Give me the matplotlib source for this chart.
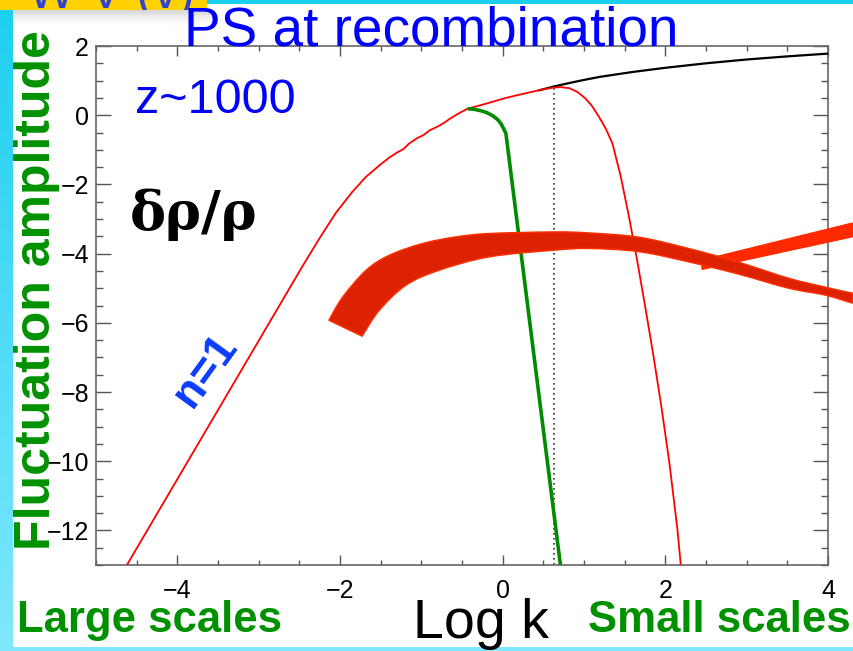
import matplotlib
matplotlib.use("Agg")
import matplotlib.pyplot as plt
import numpy as np
from matplotlib.path import Path
from matplotlib.patches import PathPatch
from matplotlib.ticker import MultipleLocator

W, H = 854, 651

# Density contrast at recombination (red), primordial n=1 spectrum (black),
# strongly damped case (green), all in log amplitude vs log k.
log_k_red = [-4.62, -4.30, -4.00, -3.70, -3.40, -3.10, -2.80, -2.46, -2.25, -2.05,
             -1.85, -1.68, -1.50, -1.39, -1.30, -1.22, -1.15, -1.05, -0.97, -0.90,
             -0.80, -0.72, -0.66, -0.55, -0.43, -0.30, -0.15, 0.04, 0.20, 0.35,
             0.50, 0.63, 0.72, 0.82, 0.92, 1.02, 1.10, 1.18, 1.27, 1.35,
             1.45, 1.55, 1.65, 1.75, 1.85, 1.95, 2.05, 2.15, 2.19]
amp_red = [-13.0, -11.72, -10.52, -9.32, -8.12, -6.92, -5.72, -4.36, -3.55, -2.82,
           -2.22, -1.78, -1.42, -1.22, -1.08, -0.98, -0.82, -0.66, -0.57, -0.44,
           -0.33, -0.22, -0.12, 0.04, 0.19, 0.27, 0.37, 0.50, 0.59, 0.67,
           0.75, 0.80, 0.81, 0.78, 0.67, 0.48, 0.26, -0.03, -0.40, -0.82,
           -1.75, -2.90, -4.15, -5.50, -6.90, -8.40, -10.05, -12.00, -13.0]

log_k_black = [0.45, 0.63, 0.80, 1.00, 1.20, 1.60, 2.00, 2.50, 3.00, 3.50, 4.00]
amp_black = [0.72, 0.83, 0.92, 1.02, 1.11, 1.25, 1.37, 1.50, 1.61, 1.70, 1.78]

log_k_green = [-0.43, -0.35, -0.27, -0.19, -0.12, -0.06, -0.02, 0.01, 0.04, 0.71]
amp_green = [0.19, 0.17, 0.13, 0.07, -0.02, -0.13, -0.25, -0.38, -0.53, -13.0]

k_peak = 0.63
amp_peak = 0.80

# Hand-drawn pointer: curved band and straight bar (data coordinates)
band_upper_x = [-2.137, -1.966, -1.679, -1.393, -0.984, -0.574, -0.166, 0.632, 1.061,
                1.675, 2.288, 2.902, 3.515, 3.969, 4.301]
band_upper_y = [-5.925, -5.251, -4.480, -4.046, -3.708, -3.517, -3.419, -3.373, -3.402,
                -3.526, -3.853, -4.249, -4.711, -4.971, -5.145]
band_lower_x = [-1.728, -1.515, -1.188, -0.779, -0.166, 0.632, 1.061, 1.675, 2.288,
                2.902, 3.515, 3.969, 4.301]
band_lower_y = [-6.387, -5.636, -4.913, -4.480, -4.095, -3.902, -3.853, -3.945, -4.240,
                -4.595, -5.000, -5.202, -5.434]
bar_x = [2.443, 4.301, 4.301, 2.451]
bar_y = [-4.191, -3.113, -3.517, -4.460]

x_ticks = [-4, -2, 0, 2, 4]
y_ticks = [2, 0, -2, -4, -6, -8, -10, -12]

BLUE = "#0000FF"
GREEN = "#009100"
SANS = "Liberation Sans"


def fx(px):
    return px / W


def fy(py):
    return 1 - py / H


def bezier_through(xs, ys, first_code=Path.MOVETO):
    """Cubic Bezier segments passing through every given vertex."""
    pts = np.column_stack([xs, ys])
    n = len(pts)
    verts = [pts[0]]
    codes = [first_code]
    for i in range(n - 1):
        p0 = pts[max(i - 1, 0)]
        p1, p2 = pts[i], pts[i + 1]
        p3 = pts[min(i + 2, n - 1)]
        verts += [p1 + (p2 - p0) / 6, p2 - (p3 - p1) / 6, p2]
        codes += [Path.CURVE4] * 3
    return verts, codes


fig = plt.figure(figsize=(W / 100, H / 100), dpi=100)
fig.patch.set_facecolor("white")

# Slide frame behind the plot
bg = fig.add_axes([0, 0, 1, 1], zorder=-5)
bg.set_xlim(0, W)
bg.set_ylim(H, 0)
bg.axis("off")
grad = np.linspace(0, 1, 256).reshape(-1, 1)
cmap = matplotlib.colors.LinearSegmentedColormap.from_list("strip", ["#1ccfee", "#80e8ff"])
bg.imshow(grad, cmap=cmap, extent=[0, 13, H, 0], aspect="auto")
bg.add_patch(plt.Rectangle((207, 0), W - 207, 4, color="#1ad0ee", lw=0))
bg.add_patch(plt.Rectangle((0, H - 4), W, 4, color="#80e6ff", lw=0))
for i, a in enumerate([0.22, 0.16, 0.11, 0.07, 0.04, 0.02]):
    bg.add_patch(plt.Rectangle((13, 10 + 2.5 * i), 196 + 2 * i, 2.5, color="#555555",
                               alpha=a, lw=0))
ybox = plt.Rectangle((0, 0), 207, 10, color="#ffd200", lw=0)
bg.add_patch(ybox)
tag = bg.text(28, 8, "W V (v)", fontsize=36, color="#3344cc", family=SANS,
              va="baseline", clip_on=True)
tag.set_clip_path(ybox)

ax = fig.add_axes([96 / W, 1 - 565 / H, (828 - 96) / W, (565 - 46) / H])
ax.set_xlim(-5, 4)
ax.set_ylim(-13, 2)

ax.plot(log_k_black, amp_black, color="black", lw=1.6, zorder=3)
ax.plot(log_k_red, amp_red, color="#ff0000", lw=1.3, zorder=4)
ax.plot(log_k_green, amp_green, color="#008c00", lw=2.6, zorder=5,
        solid_capstyle="butt")
ax.plot([k_peak, k_peak], [amp_peak, -13], color="#333333", lw=1.2, ls=(0, (1, 2)),
        zorder=2)

ax.fill(bar_x, bar_y, facecolor="#ff2a00", edgecolor="#ff2a00", lw=0.8, clip_on=False,
        zorder=6)
uv, uc = bezier_through(band_upper_x, band_upper_y)
lv, lc = bezier_through(band_lower_x[::-1], band_lower_y[::-1], first_code=Path.LINETO)
band = PathPatch(Path(uv + lv + [uv[0]], uc + lc + [Path.CLOSEPOLY]),
                 facecolor="#dc2200", edgecolor="#ff3000", lw=1.0, clip_on=False,
                 zorder=7)
ax.add_patch(band)

ax.set_xticks(x_ticks)
ax.set_yticks(y_ticks)
ax.xaxis.set_minor_locator(MultipleLocator(0.5))
ax.yaxis.set_minor_locator(MultipleLocator(0.5))
ax.tick_params(which="both", direction="in", top=True, right=True, color="#555555",
               width=1.0, labelsize=18, labelcolor="black")
ax.tick_params(axis="x", which="major", length=7, pad=10)
ax.tick_params(axis="x", which="minor", length=3.5)
ax.tick_params(axis="y", which="major", length=10.5, pad=5)
ax.tick_params(axis="y", which="minor", length=5)
for lab in ax.get_xticklabels() + ax.get_yticklabels():
    lab.set_family(SANS)
for sp in ax.spines.values():
    sp.set_color("#666666")
    sp.set_linewidth(1.2)

# Slide annotations
fig.text(fx(431), fy(45), "PS at recombination", fontsize=39.5, color=BLUE, family=SANS,
         ha="center", va="baseline")
fig.text(fx(135), fy(113), "z~1000", fontsize=35, color=BLUE, family=SANS,
         va="baseline")
fig.text(fx(130), fy(230), "δρ/ρ", fontsize=39, color="black", family="DejaVu Serif",
         weight="bold", va="baseline")
fig.text(fx(206), fy(371), "n=1", fontsize=32, color="#0a3cff", family=SANS,
         weight="bold", rotation=54, rotation_mode="anchor", ha="center", va="center")
fig.text(fx(50), fy(290), "Fluctuation amplitude", fontsize=36, color=GREEN, family=SANS,
         weight="bold", rotation=90, rotation_mode="anchor", ha="center", va="baseline")
fig.text(fx(17), fy(632), "Large scales", fontsize=31.5, color=GREEN, family=SANS,
         weight="bold", va="baseline")
fig.text(fx(588), fy(632), "Small scales", fontsize=31.5, color=GREEN, family=SANS,
         weight="bold", va="baseline")
fig.text(fx(481), fy(638), "Log k", fontsize=40, color="black", family=SANS,
         ha="center", va="baseline")

fig.savefig("out.png", dpi=100)
